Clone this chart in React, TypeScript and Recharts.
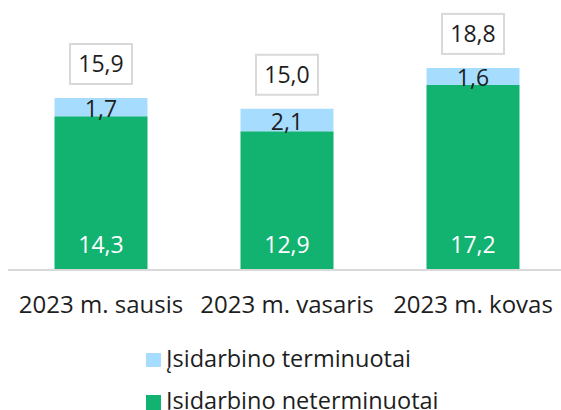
import React from 'react';
import { BarChart, Bar, XAxis, YAxis, Legend, LabelList } from 'recharts';

const categories = ['2023 m. sausis', '2023 m. vasaris', '2023 m. kovas'];
const neterminuotai = [14.3, 12.9, 17.2];
const terminuotai = [1.7, 2.1, 1.6];
const totals = [15.9, 15.0, 18.8];

const GREEN = '#12B270';
const BLUE = '#A6DDFF';
const TEXT = '#1e1e1e';
const FONT = '"Open Sans", sans-serif';

const data = categories.map((c, i) => ({
  name: c,
  net: neterminuotai[i],
  term: terminuotai[i],
  total: totals[i],
}));

const fmt = (v: number) => v.toFixed(1).replace('.', ',');

const GreenLabel = (props: any) => {
  const { x, y, width, height, value } = props;
  return (
    <text x={x + width / 2} y={y + height - 25} dy="0.36em" textAnchor="middle" fill="#ffffff" fontSize={23} fontFamily={FONT}>
      {fmt(value)}
    </text>
  );
};

const BlueLabel = (props: any) => {
  const { x, y, width, height, value } = props;
  return (
    <text x={x + width / 2} y={y + height / 2 + 1.5} dy="0.36em" textAnchor="middle" fill={TEXT} fontSize={23} fontFamily={FONT}>
      {fmt(value)}
    </text>
  );
};

const TotalLabel = (props: any) => {
  const { x, y, width, value } = props;
  const cx = x + width / 2;
  const bw = 62;
  const bh = 40;
  const bottom = y - 14;
  return (
    <g>
      <rect x={cx - bw / 2} y={bottom - bh} width={bw} height={bh} fill="#ffffff" stroke="#d9d9d9" strokeWidth={2} />
      <text x={cx} y={bottom - bh / 2} dy="0.36em" textAnchor="middle" fill={TEXT} fontSize={23} fontFamily={FONT}>
        {fmt(value)}
      </text>
    </g>
  );
};

const legendItems = [
  { label: 'Įsidarbino terminuotai', color: BLUE, top: 31.6 },
  { label: 'Įsidarbino neterminuotai', color: GREEN, top: 74.4 },
];

const LegendContent = () => (
  <div style={{ position: 'relative', width: 553, height: 100, fontFamily: FONT }}>
    {legendItems.map((it) => (
      <div key={it.label} style={{ position: 'absolute', left: 138, top: it.top, display: 'flex', alignItems: 'flex-start', lineHeight: '32px', fontSize: 23.5, color: TEXT, whiteSpace: 'nowrap' }}>
        <span style={{ display: 'inline-block', width: 15, height: 14.5, background: it.color, marginTop: 11, marginRight: 5 }} />
        <span>{it.label}</span>
      </div>
    ))}
  </div>
);

export default function App() {
  return (
    <div style={{ position: 'absolute', left: 8, top: 8, width: 553, height: 402, overflow: 'hidden' }}>
      <BarChart width={558} height={402} data={data} margin={{ top: 47, right: 0, left: 0, bottom: 0 }} barCategoryGap="25%">
        <XAxis
          dataKey="name"
          axisLine={{ stroke: '#d9d9d9', strokeWidth: 2 }}
          tickLine={false}
          tickSize={0}
          tickMargin={26}
          height={40}
          interval={0}
          tick={{ fontSize: 24, fill: TEXT, fontFamily: FONT }}
        />
        <YAxis hide domain={[0, 20]} />
        <Legend
          verticalAlign="bottom"
          content={<LegendContent />}
          wrapperStyle={{ left: 0, width: 553, height: 100 }}
        />
        <Bar dataKey="net" stackId="a" fill={GREEN} isAnimationActive={false} name="Įsidarbino neterminuotai">
          <LabelList dataKey="net" content={<GreenLabel />} />
        </Bar>
        <Bar dataKey="term" stackId="a" fill={BLUE} isAnimationActive={false} name="Įsidarbino terminuotai">
          <LabelList dataKey="term" content={<BlueLabel />} />
          <LabelList dataKey="total" content={<TotalLabel />} />
        </Bar>
      </BarChart>
    </div>
  );
}
